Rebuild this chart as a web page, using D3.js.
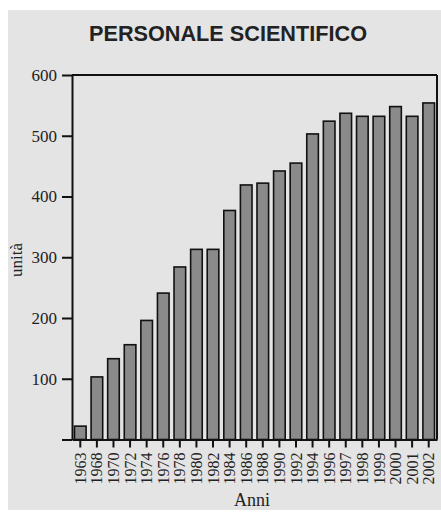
<!DOCTYPE html>
<html>
<head>
<meta charset="utf-8">
<script src="https://cdn.jsdelivr.net/npm/d3@7"></script>
<style>
  html, body { margin: 0; padding: 0; background: #fff; }
  svg { display: block; }
</style>
</head>
<body>
<script>
const years = ["1963","1968","1970","1972","1974","1976","1978","1980","1982","1984","1986","1988","1990","1992","1994","1996","1997","1998","1999","2000","2001","2002"];
const values = [22,103,133,156,196,241,284,313,313,377,419,422,442,455,503,524,537,532,532,548,532,554];
const yTicks = [0,100,200,300,400,500,600];
const title = "PERSONALE SCIENTIFICO";
const yLabel = "unità";
const xLabel = "Anni";

const W = 441, H = 513;
const svg = d3.select("body").append("svg").attr("width", W).attr("height", H);

svg.append("rect").attr("x", 8).attr("y", 10).attr("width", W - 8).attr("height", 500).attr("fill", "#e4e4e4");

const pL = 72, pR = 437, pT = 75, pB = 439.5;
const x = d3.scaleBand().domain(years).range([pL, pR]).paddingInner(0.3).paddingOuter(0.15);
const y = d3.scaleLinear().domain([0, 600]).range([pB, pT]);

svg.append("text").attr("x", 228).attr("y", 41).attr("text-anchor", "middle")
  .attr("font-family", "'Liberation Sans Narrow', 'Liberation Sans', Arial, sans-serif")
  .attr("font-weight", "bold").attr("font-size", 22).attr("fill", "#222")
  .attr("textLength", 278).attr("lengthAdjust", "spacingAndGlyphs")
  .text(title);

// bars
svg.append("g").selectAll("rect").data(values).join("rect")
  .attr("x", (d, i) => x(years[i]))
  .attr("y", d => y(d))
  .attr("width", x.bandwidth())
  .attr("height", d => y(0) - y(d))
  .attr("fill", "#8a8a8a").attr("stroke", "#111").attr("stroke-width", 1.6);

// frame top and right
svg.append("line").attr("x1", pL).attr("x2", pR).attr("y1", y(600)).attr("y2", y(600)).attr("stroke", "#111").attr("stroke-width", 2);
svg.append("line").attr("x1", pR).attr("x2", pR).attr("y1", y(600)).attr("y2", y(0)).attr("stroke", "#111").attr("stroke-width", 2);

const serif = "'Liberation Serif', 'Times New Roman', serif";

const ya = svg.append("g").attr("transform", `translate(${pL},0)`)
  .call(d3.axisLeft(y).tickValues(yTicks).tickFormat(d => d === 0 ? "" : d).tickSize(10).tickSizeOuter(0).tickPadding(5));
ya.selectAll("path, line").attr("stroke", "#111").attr("stroke-width", 2);
ya.selectAll("text").attr("font-family", serif).attr("font-size", 17).attr("fill", "#222");

const xa = svg.append("g").attr("transform", `translate(0,${pB})`)
  .call(d3.axisBottom(x).tickSize(8).tickSizeOuter(0).tickPadding(5));
xa.selectAll("path, line").attr("stroke", "#111").attr("stroke-width", 2);
xa.selectAll("text").attr("font-family", serif).attr("font-size", 16).attr("fill", "#222")
  .attr("transform", "rotate(-90)").attr("text-anchor", "end")
  .attr("x", -13).attr("y", 0).attr("dy", "0.35em");

svg.append("text").attr("transform", "translate(22,260) rotate(-90)").attr("text-anchor", "middle")
  .attr("font-family", serif).attr("font-size", 17).attr("fill", "#222").text(yLabel);

svg.append("text").attr("x", 252).attr("y", 506).attr("text-anchor", "middle")
  .attr("font-family", serif).attr("font-size", 18).attr("fill", "#222").text(xLabel);
</script>
</body>
</html>
